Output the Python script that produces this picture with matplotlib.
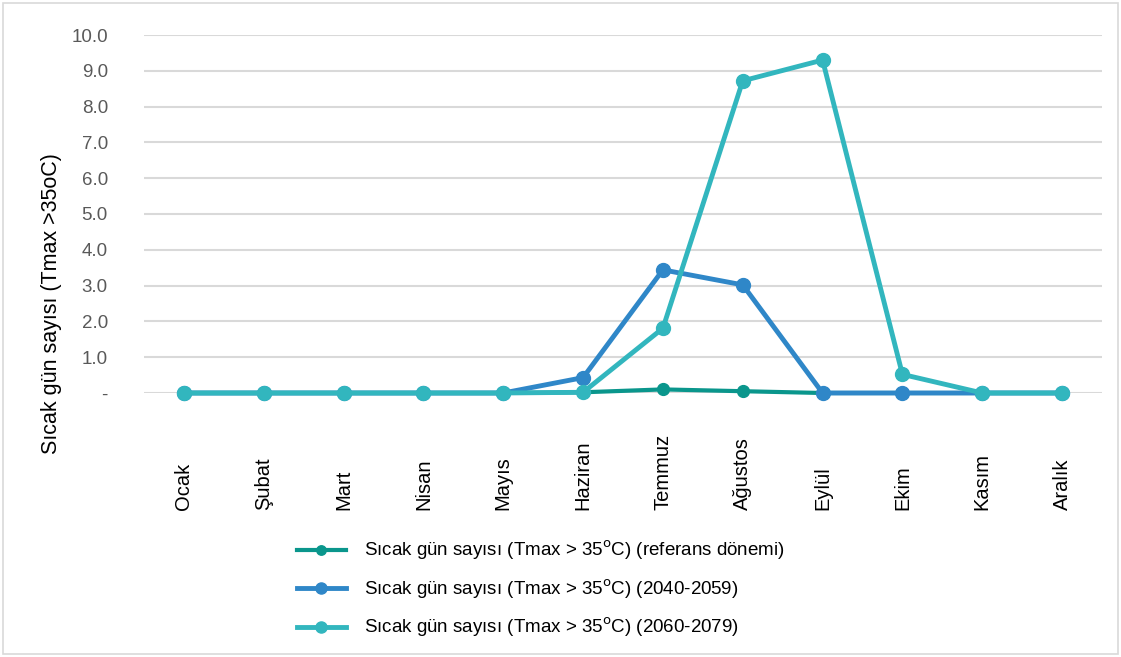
import matplotlib.pyplot as plt
from matplotlib.patches import Rectangle

plt.rcParams['font.family'] = ['Liberation Sans', 'DejaVu Sans']

months = ['Ocak', 'Şubat', 'Mart', 'Nisan', 'Mayıs', 'Haziran',
          'Temmuz', 'Ağustos', 'Eylül', 'Ekim', 'Kasım', 'Aralık']
ref_period = [0, 0, 0, 0, 0, 0.02, 0.10, 0.05, 0, 0, 0, 0]
p2040 = [0, 0, 0, 0, 0, 0.43, 3.44, 3.02, 0, 0, 0, 0]
p2060 = [0, 0, 0, 0, 0, 0.02, 1.81, 8.72, 9.30, 0.52, 0, 0]

names = ['Sıcak gün sayısı (Tmax > 35$^{\\mathrm{o}}$C) (referans dönemi)',
         'Sıcak gün sayısı (Tmax > 35$^{\\mathrm{o}}$C) (2040-2059)',
         'Sıcak gün sayısı (Tmax > 35$^{\\mathrm{o}}$C) (2060-2079)']
colors = ['#0A968C', '#2F87C8', '#32B6BE']

fig = plt.figure(figsize=(11.21, 6.57), dpi=100)
ax = fig.add_axes([144 / 1121, 1 - 393 / 657, (1102 - 144) / 1121, (393 - 35) / 657])

x = list(range(len(months)))
ax.plot(x, ref_period, color=colors[0], lw=3, marker='o', ms=8.5,
        label=names[0], clip_on=False, zorder=3)
ax.plot(x, p2040, color=colors[1], lw=3.5, marker='o', ms=10,
        label=names[1], clip_on=False, zorder=4)
ax.plot(x, p2060, color=colors[2], lw=3.5, marker='o', ms=10,
        label=names[2], clip_on=False, zorder=5)

ax.set_xlim(-0.5, 11.5)
ax.set_ylim(0, 10)
ax.set_yticks(range(0, 11))
ax.set_yticklabels(['-'] + [f'{v:.1f}' for v in range(1, 11)],
                   color='#595959', fontsize=13.5)
ax.set_xticks(x)
ax.set_xticklabels(months, rotation=90, fontsize=14.5, va='bottom')
ax.tick_params(axis='x', length=0, pad=84)
ax.tick_params(axis='y', length=0, pad=26)
ax.grid(axis='y', color='#D9D9D9', lw=1.5)
ax.set_axisbelow(True)
for s in ax.spines.values():
    s.set_visible(False)

fig.text(52 / 1121, 1 - 304 / 657, 'Sıcak gün sayısı (Tmax >35oC)',
         rotation=90, ha='center', va='center', fontsize=15.5)

fig.legend(loc='upper left', bbox_to_anchor=(280 / 1121, 1 - 522 / 657),
           frameon=False, fontsize=13.5, handlelength=2.6, labelspacing=0.8,
           handletextpad=1.0, markerscale=0.8)

fig.patches.append(Rectangle((3 / 1121, 3 / 657), 1115 / 1121, 651 / 657,
                             transform=fig.transFigure, fill=False,
                             edgecolor='#D9D9D9', lw=1.2))

fig.savefig('out.png', dpi=100)
